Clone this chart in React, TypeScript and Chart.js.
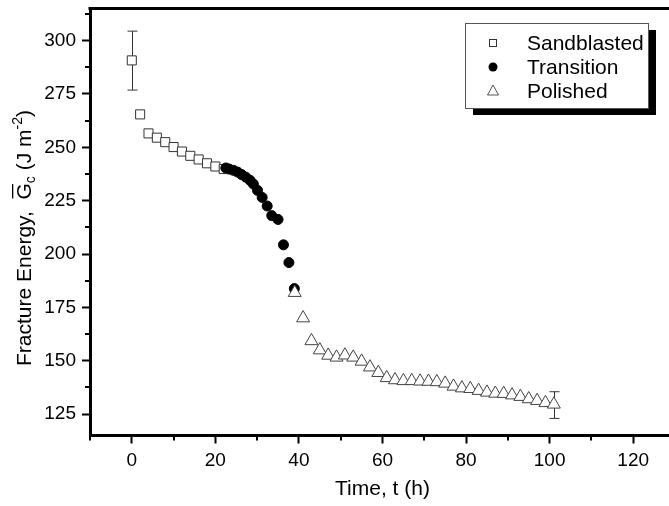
import { useEffect, useRef } from 'react';
import { Chart, registerables } from 'chart.js';
Chart.register(...registerables);

const sandX = [0, 2, 4, 6, 8, 10, 12, 14, 16, 18, 20, 22];
const sandY = [290.7, 265.4, 256.5, 254.5, 252.4, 250.1, 248, 246, 244.3, 242.5, 241, 239.8];
const transX = [22.5, 23.3, 24.3, 25.3, 26.3, 27.3, 28.3, 29.1, 30.1, 31.2, 32.4, 33.5, 35, 36.3, 37.6, 38.9];
const transY = [240.3, 239.8, 239.2, 238.4, 237.2, 236, 234.5, 232.8, 229.8, 226.5, 222.5, 218, 216.2, 204.3, 196, 183.8];
const polX = [39, 41, 43, 45, 47, 49, 51, 53, 55, 57, 59, 61, 63, 65, 67, 69, 71, 73, 75, 77, 79, 81, 83, 85, 87, 89, 91, 93, 95, 97, 99, 101];
const polY = [181.9, 170, 159.3, 155, 152.5, 151.6, 152.6, 151.6, 149.7, 147, 144.4, 142, 141, 140.6, 140.6, 140.4, 140.3, 140.1, 139.4, 138, 137.2, 136.9, 136, 135.2, 134.7, 134.6, 133.9, 133.2, 132.1, 131.3, 130.3, 129.6];
const errX = [0, 101];
const errLow = [276.8, 123];
const errHigh = [304.4, 135.5];
const xTicks = [0, 20, 40, 60, 80, 100, 120];
const xMinor = [-10, 10, 30, 50, 70, 90, 110, 130];
const yTicks = [125, 150, 175, 200, 225, 250, 275, 300];
const yMinor = [137.5, 162.5, 187.5, 212.5, 237.5, 262.5, 287.5, 312.5];
const legendLabels = ['Sandblasted', 'Transition', 'Polished'];

const SANS = "'Liberation Sans', Arial, sans-serif";

const toPts = (xs: number[], ys: number[]) => xs.map((x, i) => ({ x, y: ys[i] }));

const extras = {
  id: 'extras',
  beforeDatasetsDraw(chart: any) {
    const { ctx } = chart;
    const xs = chart.scales.x;
    const ys = chart.scales.y;
    ctx.save();
    ctx.strokeStyle = '#333';
    ctx.lineWidth = 1;
    errX.forEach((xv, i) => {
      const px = Math.round(xs.getPixelForValue(xv)) + 0.5;
      const pt = ys.getPixelForValue(errHigh[i]);
      const pb = ys.getPixelForValue(errLow[i]);
      ctx.beginPath();
      ctx.moveTo(px, pt);
      ctx.lineTo(px, pb);
      ctx.moveTo(px - 5, pt);
      ctx.lineTo(px + 5, pt);
      ctx.moveTo(px - 5, pb);
      ctx.lineTo(px + 5, pb);
      ctx.stroke();
    });
    ctx.restore();
  },
  afterDraw(chart: any) {
    const { ctx, chartArea } = chart;
    const xs = chart.scales.x;
    const ys = chart.scales.y;
    ctx.save();
    ctx.strokeStyle = '#000';
    ctx.lineWidth = 3;
    ctx.beginPath();
    ctx.moveTo(chartArea.left - 1.5, chartArea.top);
    ctx.lineTo(chart.width, chartArea.top);
    ctx.stroke();
    ctx.lineWidth = 2;
    ctx.beginPath();
    xMinor.forEach((v) => {
      const px = Math.round(xs.getPixelForValue(v));
      ctx.moveTo(px, chartArea.bottom);
      ctx.lineTo(px, chartArea.bottom + 5);
    });
    yMinor.forEach((v) => {
      const py = Math.round(ys.getPixelForValue(v));
      ctx.moveTo(chartArea.left - 5, py);
      ctx.lineTo(chartArea.left, py);
    });
    ctx.stroke();

    ctx.save();
    ctx.translate(31, 238);
    ctx.rotate(-Math.PI / 2);
    ctx.fillStyle = '#000';
    ctx.textBaseline = 'alphabetic';
    const parts = [
      { t: 'Fracture Energy,  ', s: 21, dy: 0 },
      { t: 'G', s: 21, dy: 0, bar: true },
      { t: 'c', s: 14, dy: 4 },
      { t: ' (J m', s: 21, dy: 0 },
      { t: '-2', s: 14, dy: -9 },
      { t: ')', s: 21, dy: 0 },
    ];
    let total = 0;
    parts.forEach((p) => {
      ctx.font = `${p.s}px ${SANS}`;
      total += ctx.measureText(p.t).width;
    });
    let cx = -total / 2;
    parts.forEach((p: any) => {
      ctx.font = `${p.s}px ${SANS}`;
      const w = ctx.measureText(p.t).width;
      ctx.fillText(p.t, cx, p.dy);
      if (p.bar) {
        ctx.fillRect(cx + 1, -19, w - 2, 1.3);
      }
      cx += w;
    });
    ctx.restore();

    const bx = 465, by = 23, bw = 183, bh = 85;
    ctx.fillStyle = '#000';
    ctx.fillRect(bx + 8, by + 7, bw, bh);
    ctx.fillStyle = '#fff';
    ctx.fillRect(bx, by, bw, bh);
    ctx.strokeStyle = '#555';
    ctx.lineWidth = 1;
    ctx.strokeRect(bx + 0.5, by + 0.5, bw, bh);
    const rows = [43, 67, 91];
    const sx = 493;
    ctx.strokeStyle = '#333';
    ctx.fillStyle = '#fff';
    ctx.fillRect(sx - 3.5, rows[0] - 3.5, 7, 7);
    ctx.strokeRect(sx - 3.5, rows[0] - 3.5, 7, 7);
    ctx.fillStyle = '#000';
    ctx.beginPath();
    ctx.arc(sx, rows[1], 4.5, 0, Math.PI * 2);
    ctx.fill();
    ctx.strokeStyle = '#555';
    ctx.beginPath();
    ctx.moveTo(sx, rows[2] - 6);
    ctx.lineTo(sx + 5.5, rows[2] + 4);
    ctx.lineTo(sx - 5.5, rows[2] + 4);
    ctx.closePath();
    ctx.stroke();
    ctx.fillStyle = '#000';
    ctx.font = `21px ${SANS}`;
    ctx.textBaseline = 'middle';
    ctx.textAlign = 'left';
    legendLabels.forEach((l, i) => ctx.fillText(l, 527, rows[i] + 1));
    ctx.restore();
  },
};

export default function App() {
  const ref = useRef<HTMLCanvasElement>(null);
  useEffect(() => {
    if (!ref.current) return;
    const chart = new Chart(ref.current, {
      type: 'scatter',
      data: {
        datasets: [
          {
            label: legendLabels[0],
            data: toPts(sandX, sandY),
            pointStyle: 'rect',
            pointRadius: 6.4,
            pointBackgroundColor: '#fff',
            pointBorderColor: '#333',
            pointBorderWidth: 1,
            order: 3,
          },
          {
            label: legendLabels[1],
            data: toPts(transX, transY),
            pointStyle: 'circle',
            pointRadius: 5,
            pointBackgroundColor: '#000',
            pointBorderColor: '#000',
            pointBorderWidth: 1,
            order: 2,
          },
          {
            label: legendLabels[2],
            data: toPts(polX, polY),
            pointStyle: 'triangle',
            pointRadius: 7.5,
            pointBackgroundColor: '#fff',
            pointBorderColor: '#444',
            pointBorderWidth: 1,
            order: 1,
          },
        ],
      },
      options: {
        animation: false,
        responsive: false,
        layout: { padding: { top: 3, right: 15, left: 0, bottom: 0 } },
        plugins: { legend: { display: false }, tooltip: { enabled: false } },
        scales: {
          x: {
            type: 'linear',
            min: -10,
            max: 130,
            afterBuildTicks: (s: any) => {
              s.ticks = xTicks.map((v) => ({ value: v }));
            },
            afterFit: (s: any) => {
              s.height = 70.5;
              s.paddingLeft = 0;
              s.paddingRight = 0;
            },
            grid: { display: true, drawOnChartArea: false, drawTicks: true, tickLength: 8, tickWidth: 2, tickColor: '#000' },
            border: { display: true, width: 3, color: '#000' },
            ticks: { color: '#000', font: { family: SANS, size: 19 }, padding: 6 },
            title: { display: true, text: 'Time, t (h)', color: '#000', font: { family: SANS, size: 21 }, padding: { top: 0, bottom: 4 } },
          },
          y: {
            type: 'linear',
            min: 115,
            max: 315,
            afterBuildTicks: (s: any) => {
              s.ticks = yTicks.map((v) => ({ value: v }));
            },
            afterFit: (s: any) => {
              s.width = 90;
              s.paddingTop = 0;
              s.paddingBottom = 0;
            },
            grid: { display: true, drawOnChartArea: false, drawTicks: true, tickLength: 8, tickWidth: 2, tickColor: '#000' },
            border: { display: true, width: 3, color: '#000' },
            ticks: { color: '#000', font: { family: SANS, size: 19 }, padding: 6 },
            title: { display: false },
          },
        },
      },
      plugins: [extras],
    });
    return () => chart.destroy();
  }, []);
  return (
    <div style={{ position: 'absolute', left: 0, top: 0, width: 669, height: 506, overflow: 'hidden', background: '#fff' }}>
      <canvas ref={ref} width={690} height={506} style={{ display: 'block', width: 690, height: 506 }} />
    </div>
  );
}
